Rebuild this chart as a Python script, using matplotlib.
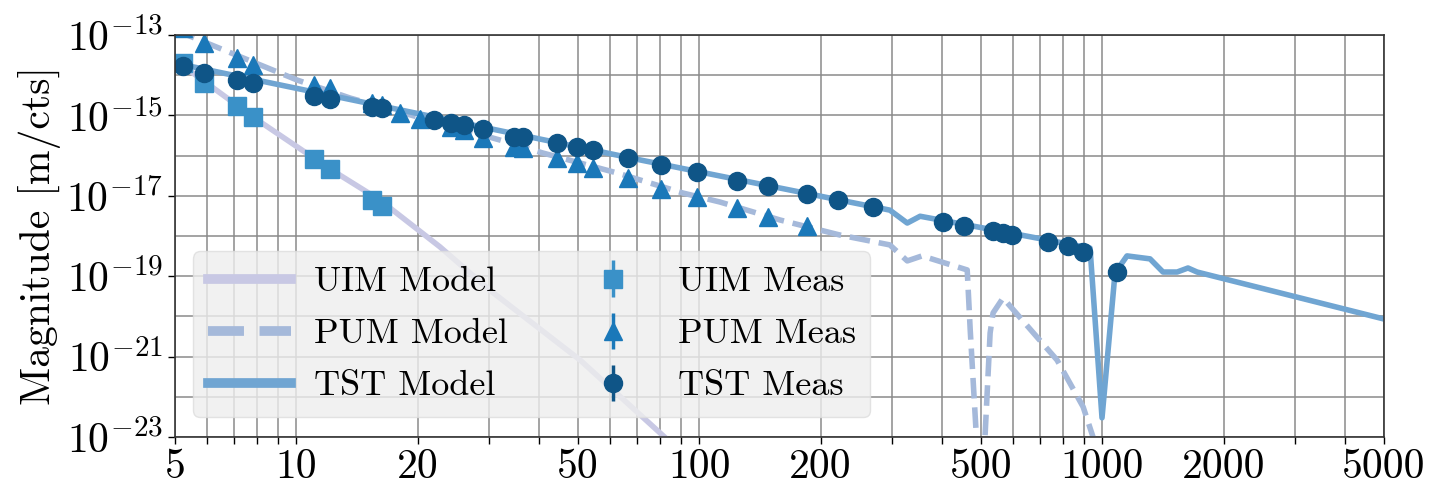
import numpy as np
import matplotlib
matplotlib.use("Agg")
import matplotlib.pyplot as plt
from matplotlib.ticker import FixedLocator, LogLocator, NullFormatter

plt.rcParams["font.family"] = "cmr10"
plt.rcParams["mathtext.fontset"] = "cm"
plt.rcParams["axes.unicode_minus"] = False

# Model curves (frequency [Hz], magnitude [m/cts])
uim_model_f = [5.0, 7.81, 12.1, 16.1, 22.7, 30.2, 50.6, 79.9, 120.0]
uim_model_mag = [2.4e-14, 9.1e-16, 4.7e-17, 7.9e-18, 5.4e-19, 4.5e-20, 8.2e-22, 1.26e-23, 3.0e-25]

pum_model_f = [5.0, 10.04, 13.6, 32.0, 40.9, 62.5, 91.1, 112.5, 158.6, 223.0, 297.0,
               328.0, 357.0, 462.0, 470.0, 500.0, 526.6, 535.6, 567.0, 688.0, 772.0,
               896.0, 948.0, 990.0]
pum_model_mag = [1.33e-13, 7.6e-15, 2.7e-15, 2.44e-16, 1.16e-16, 3.7e-17, 1.17e-17, 7.0e-18,
                 2.5e-18, 1.06e-18, 6.0e-19, 2.4e-19, 3.2e-19, 1.43e-19, 4.6e-21, 1.0e-25,
                 3.87e-21, 1.22e-20, 2.87e-20, 3.08e-21, 8.2e-22, 5.6e-23, 1.0e-23, 1.0e-25]

tst_model_f = [5.0, 20.3, 71.3, 297.0, 328.0, 353.0, 590.0, 932.0, 998.0, 1075.0, 1151.0,
               1313.0, 1414.0, 1533.0, 1631.0, 1718.0, 5000.0]
tst_model_mag = [2.0e-14, 1.08e-15, 7.8e-17, 4.4e-18, 2.1e-18, 3.1e-18, 1.19e-18, 5.0e-19,
                 3.0e-23, 1.2e-19, 3.2e-19, 2.7e-19, 1.27e-19, 1.27e-19, 1.6e-19, 1.27e-19, 8.6e-21]

# Measurements
uim_meas_f = [5.22, 5.91, 7.11, 7.82, 11.08, 12.12, 15.44, 16.34]
uim_meas_mag = [2.0e-14, 6.4e-15, 1.68e-15, 9.0e-16, 8.1e-17, 4.6e-17, 7.9e-18, 5.7e-18]

pum_meas_f = [5.22, 5.91, 7.11, 7.82, 11.08, 12.12, 15.44, 16.34, 18.08, 20.3, 24.2, 26.0,
              29.1, 34.7, 36.6, 44.3, 49.6, 54.4, 66.7, 80.4, 98.9, 123.8, 147.8, 184.7]
pum_meas_mag = [1.49e-13, 6.3e-14, 2.68e-14, 1.76e-14, 5.8e-15, 4.8e-15, 2.03e-15, 1.85e-15,
                1.15e-15, 8.1e-16, 5.2e-16, 4.3e-16, 2.7e-16, 1.67e-16, 1.52e-16, 8.6e-17,
                6.4e-17, 4.8e-17, 2.72e-17, 1.48e-17, 9.2e-18, 4.9e-18, 3.0e-18, 1.77e-18]

tst_meas_f = [5.22, 5.91, 7.11, 7.82, 11.08, 12.12, 15.44, 16.34, 21.9, 24.2, 26.0, 29.1,
              34.7, 36.6, 44.3, 49.6, 54.4, 66.7, 80.4, 98.9, 123.8, 147.8, 184.7, 221.2,
              270.3, 403.0, 454.0, 536.7, 568.0, 596.0, 734.0, 823.0, 897.0, 1086.0]
tst_meas_mag = [1.66e-14, 1.14e-14, 7.46e-15, 6.4e-15, 3.09e-15, 2.56e-15, 1.62e-15, 1.53e-15,
                7.7e-16, 6.4e-16, 5.8e-16, 4.5e-16, 2.95e-16, 2.85e-16, 2.02e-16, 1.61e-16,
                1.38e-16, 8.6e-17, 5.8e-17, 3.84e-17, 2.38e-17, 1.75e-17, 1.09e-17, 7.9e-18,
                5.4e-18, 2.27e-18, 1.80e-18, 1.36e-18, 1.17e-18, 1.06e-18, 7.2e-19, 5.6e-19,
                3.9e-19, 1.25e-19]

# relative error bar size (bars hide behind the markers)
meas_rel_err = 0.1

xtick_vals = [5, 10, 20, 50, 100, 200, 500, 1000, 2000, 5000]
xtick_labels = ["5", "10", "20", "50", "100", "200", "500", "1000", "2000", "5000"]
ytick_vals = [1e-23, 1e-21, 1e-19, 1e-17, 1e-15, 1e-13]
ytick_labels = [r"$10^{-23}$", r"$10^{-21}$", r"$10^{-19}$", r"$10^{-17}$", r"$10^{-15}$",
                r"$10^{-13}$"]
ygrid_minor = [1e-22, 1e-20, 1e-18, 1e-16, 1e-14]

# colours
uim_line_c = "#c8c8e4"
pum_line_c = "#a5b9da"
tst_line_c = "#70a5d2"
uim_meas_c = "#3a91c8"
pum_meas_c = "#1a78b9"
tst_meas_c = "#0f5587"

fig = plt.figure(figsize=(14.31, 4.93), dpi=100)
ax = fig.add_axes([0.1223, 0.1136, 0.8449, 0.8154])

l1, = ax.plot(uim_model_f, uim_model_mag, color=uim_line_c, lw=4, label="UIM Model")
l2, = ax.plot(pum_model_f, pum_model_mag, "--", color=pum_line_c, lw=4, label="PUM Model")
l3, = ax.plot(tst_model_f, tst_model_mag, color=tst_line_c, lw=4, label="TST Model")

def meas(f, mag, marker, color, label):
    mag = np.array(mag)
    return ax.errorbar(f, mag, yerr=meas_rel_err * mag, fmt=marker, color=color, ms=13,
                       elinewidth=2.5, capsize=0, label=label)

e1 = meas(uim_meas_f, uim_meas_mag, "s", uim_meas_c, "UIM Meas")
e2 = meas(pum_meas_f, pum_meas_mag, "^", pum_meas_c, "PUM Meas")
e3 = meas(tst_meas_f, tst_meas_mag, "o", tst_meas_c, "TST Meas")

ax.set_xscale("log")
ax.set_yscale("log")
ax.set_xlim(5, 5000)
ax.set_ylim(1e-23, 1e-13)

ax.xaxis.set_major_locator(FixedLocator(xtick_vals))
ax.set_xticklabels(xtick_labels)
ax.xaxis.set_minor_locator(LogLocator(base=10, subs=np.arange(2, 10), numticks=20))
ax.xaxis.set_minor_formatter(NullFormatter())
ax.yaxis.set_major_locator(FixedLocator(ytick_vals))
ax.set_yticklabels(ytick_labels)
ax.yaxis.set_minor_locator(FixedLocator(ygrid_minor))
ax.yaxis.set_minor_formatter(NullFormatter())

ax.grid(True, which="both", color="#8a8a8a", lw=1.1)
ax.set_axisbelow(True)
ax.tick_params(which="both", direction="out", length=5, width=1, labelsize=30)
ax.tick_params(axis="y", which="minor", length=0)
for s in ax.spines.values():
    s.set_color("#333333")
    s.set_linewidth(1.2)

ax.set_ylabel("Magnitude [m/cts]", fontsize=30)

leg = ax.legend(handles=[l1, l2, l3, e1, e2, e3], ncol=2, loc="lower left",
                bbox_to_anchor=(0.015, 0.05), borderaxespad=0, fontsize=26,
                handlelength=2.3, handletextpad=0.65, columnspacing=1.75,
                labelspacing=0.55, fancybox=True, framealpha=0.8,
                facecolor="#eeeeee", edgecolor="#dddddd")
for h in leg.legend_handles[:3]:
    h.set_linewidth(7)

fig.savefig("out.png", dpi=100)
